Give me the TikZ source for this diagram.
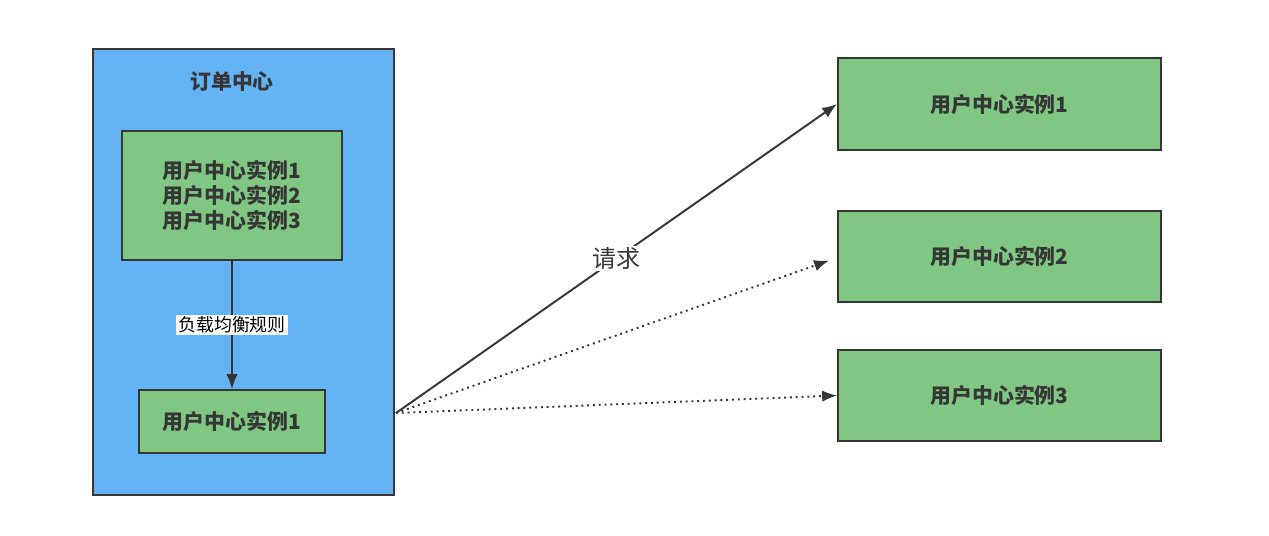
\documentclass[tikz,border=0pt]{standalone}
\usepackage{fontspec}
\setmainfont{Noto Sans CJK SC}
\usetikzlibrary{arrows.meta}
\definecolor{ordblue}{RGB}{99,179,245}
\definecolor{instgreen}{RGB}{128,199,131}
\definecolor{edgegray}{RGB}{54,54,54}
\tikzset{
  inst/.style={draw=edgegray,line width=1.1pt,fill=instgreen,text=edgegray,
    font=\bfseries\fontsize{11.9}{14.2}\selectfont,align=center,inner sep=0pt},
  req/.style={draw=edgegray,line width=1.1pt,-{Latex[length=8.5pt,width=6.5pt]}},
  reqdots/.style={req,dash pattern=on 1.1pt off 2.2pt}
}
\begin{document}
\begin{tikzpicture}[x=0.02cm,y=-0.02cm]
\useasboundingbox (0,0) rectangle (1269,535);

%Order centre box with its title
	\node[draw=edgegray,line width=1.1pt,fill=ordblue,minimum width=6.02cm,minimum height=8.92cm,inner sep=0pt] (order) at (243.5,272) {};
	\node[text=edgegray,font=\bfseries\fontsize{11.9}{14.2}\selectfont] (ordtitle) at (232,82) {订单中心};

%Local list of instances and the chosen one
	\node[inst,minimum width=4.4cm,minimum height=2.58cm] (list) at (232,195.5) {用户中心实例1\\用户中心实例2\\用户中心实例3};
	\node[inst,minimum width=3.72cm,minimum height=1.26cm] (pick) at (232,421.5) {用户中心实例1};

%Load balancing rule arrow
	\draw[req] (list) -- node[fill=white,text=black,inner sep=1pt,font=\fontsize{10.2}{12}\selectfont] {负载均衡规则} (pick);

%The three remote instances
	\foreach \y/\n in {104/1,256.5/2,395.5/3}
		\node[inst,minimum width=6.46cm,minimum height=1.83cm] (r\n) at (999.5,\y) {用户中心实例\n};

%Requests leave the order centre
	\coordinate (src) at (396,413);
	\draw[req] (src) -- node[fill=white,text=edgegray,inner sep=1pt,font=\fontsize{13.6}{16}\selectfont] {请求} (r1.west);
	\draw[reqdots] (src) -- ([shift={(-8,4)}]r2.west);
	\draw[reqdots] (src) -- (r3.west);

\end{tikzpicture}
\end{document}
